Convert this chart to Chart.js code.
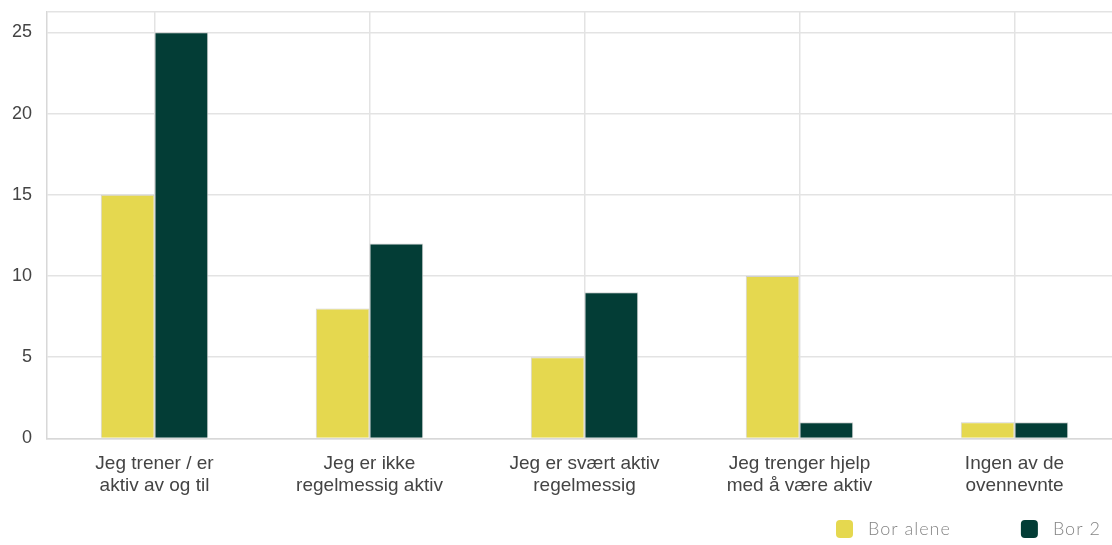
<!DOCTYPE html>
<html>
<head>
<meta charset="utf-8">
<script src="https://cdn.jsdelivr.net/npm/chart.js@4/dist/chart.umd.min.js"></script>
<style>
  html, body { margin: 0; padding: 0; background: #fff; overflow: hidden; }
  #wrap { position: relative; width: 1122px; height: 545px; }
</style>
</head>
<body>
<div id="wrap"><canvas id="c"></canvas></div>
<script>
const categories = [
  ["Jeg trener / er", "aktiv av og til"],
  ["Jeg er ikke", "regelmessig aktiv"],
  ["Jeg er svært aktiv", "regelmessig"],
  ["Jeg trenger hjelp", "med å være aktiv"],
  ["Ingen av de", "ovennevnte"]
];
const seriesNames = ["Bor alene", "Bor 2"];
const borAlene = [15, 8, 5, 10, 1];
const bor2 = [25, 12, 9, 1, 1];
const yTicks = [0, 5, 10, 15, 20, 25];

const colors = ["#E5D84F", "#033D36"];

const bottomLegend = {
  id: 'bottomLegend',
  afterDraw(chart) {
    const ctx = chart.ctx;
    ctx.save();
    ctx.font = "300 18px Lato";
    if ('letterSpacing' in ctx) ctx.letterSpacing = '1px';
    ctx.textBaseline = 'middle';
    ctx.textAlign = 'left';
    let x = 836;
    const y = 529;
    chart.data.datasets.forEach((ds, i) => {
      ctx.fillStyle = ds.backgroundColor;
      ctx.beginPath();
      ctx.roundRect(x, y - 9, 17, 18, 4);
      ctx.fill();
      ctx.fillStyle = '#858585';
      ctx.fillText(ds.label, x + 32, y);
      x += 32 + ctx.measureText(ds.label).width + 70;
    });
    ctx.restore();
  }
};

new Chart(document.getElementById('c'), {
  type: 'bar',
  data: {
    labels: categories,
    datasets: [
      { label: seriesNames[0], data: borAlene, backgroundColor: colors[0] },
      { label: seriesNames[1], data: bor2, backgroundColor: colors[1] }
    ]
  },
  plugins: [bottomLegend],
  options: {
    responsive: true,
    maintainAspectRatio: false,
    animation: false,
    layout: { padding: { left: 12, top: 12, right: 0, bottom: 34 } },
    datasets: {
      bar: {
        categoryPercentage: 0.5,
        barPercentage: 1,
        borderWidth: 1,
        borderColor: 'rgba(205,205,205,0.9)'
      }
    },
    plugins: {
      legend: { display: false },
      tooltip: { enabled: false }
    },
    scales: {
      x: {
        grid: { offset: false, color: '#e3e3e3', lineWidth: 1.5, drawTicks: false },
        border: { color: '#d8d8d8', width: 1.5 },
        ticks: {
          color: '#444',
          padding: 15,
          maxRotation: 0,
          font: { family: 'Liberation Sans', size: 19, lineHeight: 1.12 }
        }
      },
      y: {
        min: 0,
        max: 26.25,
        afterBuildTicks(scale) {
          scale.ticks = yTicks.map(v => ({ value: v })).concat([{ value: 26.25 }]);
        },
        afterFit(scale) {
          scale.width = 35;
          scale.paddingTop = 0;
          scale.paddingBottom = 0;
        },
        grid: { color: '#e3e3e3', lineWidth: 1.5, drawTicks: false },
        border: { color: '#d8d8d8', width: 1.5 },
        ticks: {
          color: '#444',
          padding: 15,
          font: { family: 'Liberation Sans', size: 18 },
          callback: (v) => (yTicks.includes(v) ? String(v) : '')
        }
      }
    }
  }
});
</script>
</body>
</html>
